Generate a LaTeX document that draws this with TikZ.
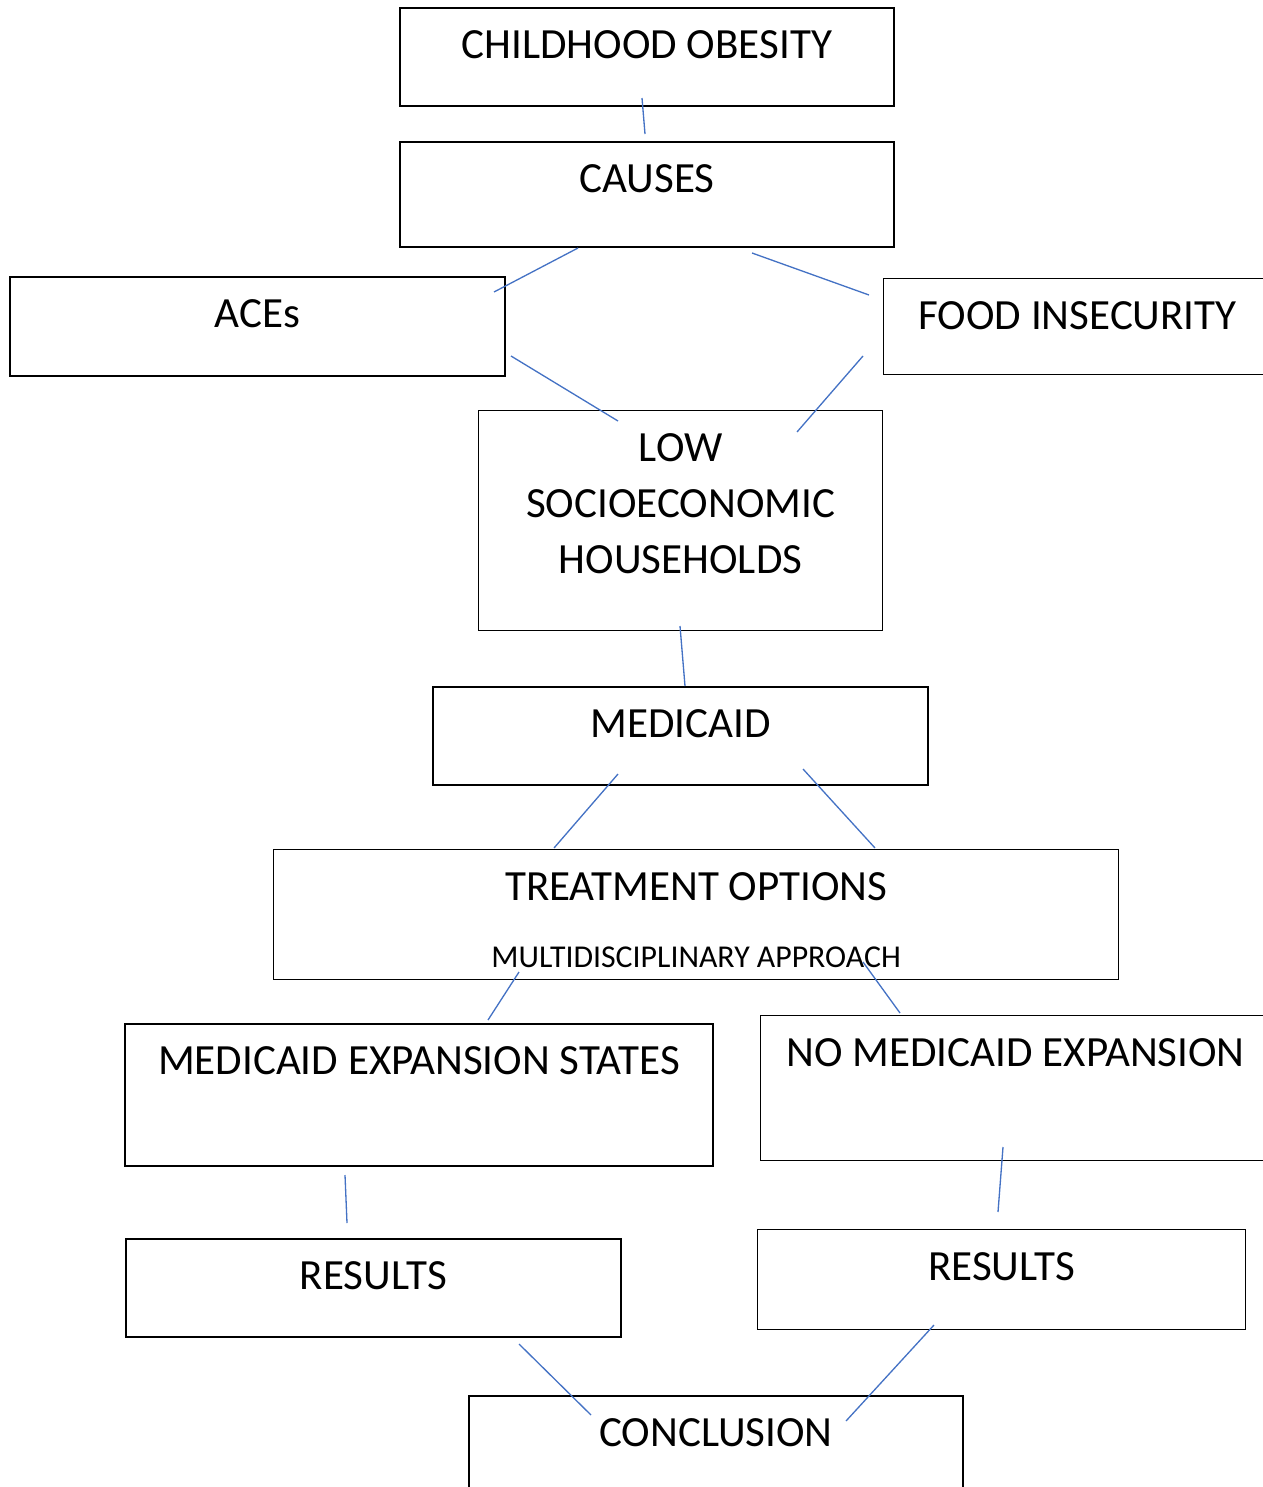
\documentclass[tikz,border=0pt]{standalone}
\usepackage{fontspec}
\setmainfont{Carlito}
\usetikzlibrary{positioning,calc}
\definecolor{linkblue}{HTML}{4472C4}
\tikzset{
  box/.style={draw=black,line width=1.1pt,anchor=north west,inner sep=0pt},
  thinbox/.style={box,line width=0.8pt},
  boxtext/.style={font=\fontsize{24.5}{31.8}\selectfont,align=center,anchor=base,inner sep=0pt},
  subtext/.style={font=\fontsize{18.1}{22}\selectfont,anchor=base,inner sep=0pt},
  link/.style={draw=linkblue,line width=0.75pt}
}
\begin{document}
\begin{tikzpicture}[x=0.02cm,y=-0.02cm]
        \useasboundingbox (0,0) rectangle (1263,1487);
        \clip (0,0) rectangle (1263,1487);
        % boxes
        \node[box,minimum width=9.88cm,minimum height=1.96cm] (obesity) at (399,7) {};
        \node[box,minimum width=9.88cm,minimum height=2.10cm] (causes) at (399,141) {};
        \node[box,minimum width=9.90cm,minimum height=1.98cm] (aces) at (9,276) {};
        \node[thinbox,minimum width=7.76cm,minimum height=1.92cm] (food) at (883,278) {};
        \node[thinbox,minimum width=8.08cm,minimum height=4.40cm] (lowses) at (478,410) {};
        \node[box,minimum width=9.90cm,minimum height=1.96cm] (medicaid) at (432,686) {};
        \node[thinbox,minimum width=16.90cm,minimum height=2.60cm] (treatment) at (273,849) {};
        \node[box,minimum width=11.76cm,minimum height=2.84cm] (expansion) at (124,1023) {};
        \node[thinbox,minimum width=10.20cm,minimum height=2.90cm] (noexpansion) at (760,1015) {};
        \node[box,minimum width=9.90cm,minimum height=1.96cm] (resultsA) at (125,1238) {};
        \node[thinbox,minimum width=9.76cm,minimum height=2.00cm] (resultsB) at (757,1229) {};
        \node[box,minimum width=9.88cm,minimum height=2.00cm] (conclusion) at (468,1395) {};
        % texts
        \node[boxtext] (obesity-t) at ($(obesity.north)+(0,51.5)$) {CHILDHOOD OBESITY};
        \node[boxtext] (causes-t) at ($(causes.north)+(0,51.5)$) {CAUSES};
        \node[boxtext] (aces-t) at ($(aces.north)+(0,51.5)$) {ACEs};
        \node[boxtext] (food-t) at ($(food.north)+(0,51.5)$) {FOOD INSECURITY};
        \node[boxtext] (lowses-t) at ($(lowses.north)+(0,163.7)$) {LOW\\SOCIOECONOMIC\\HOUSEHOLDS};
        \node[boxtext] (medicaid-t) at ($(medicaid.north)+(0,51.5)$) {MEDICAID};
        \node[boxtext] (treatment-t) at ($(treatment.north)+(0,51.5)$) {TREATMENT OPTIONS};
        \node[subtext] (treatment-s) at ($(treatment.north)+(0,118)$) {MULTIDISCIPLINARY APPROACH};
        \node[boxtext] (expansion-t) at ($(expansion.north)+(0,51.5)$) {MEDICAID EXPANSION STATES};
        \node[boxtext] (noexpansion-t) at ($(noexpansion.north)+(0,51.5)$) {NO MEDICAID EXPANSION};
        \node[boxtext] (resultsA-t) at ($(resultsA.north)+(0,51.5)$) {RESULTS};
        \node[boxtext] (resultsB-t) at ($(resultsB.north)+(0,51.5)$) {RESULTS};
        \node[boxtext] (conclusion-t) at ($(conclusion.north)+(0,51.5)$) {CONCLUSION};
        % loose ends of the links
        \coordinate (o1) at (642,98);   \coordinate (c1) at (645,134);
        \coordinate (c2) at (578,248);  \coordinate (a1) at (494,292);
        \coordinate (c3) at (752,253);  \coordinate (f1) at (869,295);
        \coordinate (a2) at (511,356);  \coordinate (l1) at (618,421);
        \coordinate (f2) at (863,356);  \coordinate (l2) at (797,432);
        \coordinate (l3) at (680,626);  \coordinate (m1) at (685,686);
        \coordinate (m2) at (618,774);  \coordinate (t1) at (554,848);
        \coordinate (m3) at (803,769);  \coordinate (t2) at (875,848);
        \coordinate (t3) at (519,972);  \coordinate (e1) at (488,1020);
        \coordinate (t4) at (863,962);  \coordinate (n1) at (900,1013);
        \coordinate (e2) at (345,1175); \coordinate (ra) at (347,1223);
        \coordinate (n2) at (1003,1147); \coordinate (rb) at (998,1212);
        \coordinate (ra2) at (519,1344); \coordinate (k1) at (591,1415);
        \coordinate (rb2) at (934,1325); \coordinate (k2) at (846,1421);
        \draw[link] (o1)--(c1);
        \draw[link] (c2)--(a1);
        \draw[link] (c3)--(f1);
        \draw[link] (a2)--(l1);
        \draw[link] (f2)--(l2);
        \draw[link] (l3)--(m1);
        \draw[link] (m2)--(t1);
        \draw[link] (m3)--(t2);
        \draw[link] (t3)--(e1);
        \draw[link] (t4)--(n1);
        \draw[link] (e2)--(ra);
        \draw[link] (n2)--(rb);
        \draw[link] (ra2)--(k1);
        \draw[link] (rb2)--(k2);
      \end{tikzpicture}
\end{document}
